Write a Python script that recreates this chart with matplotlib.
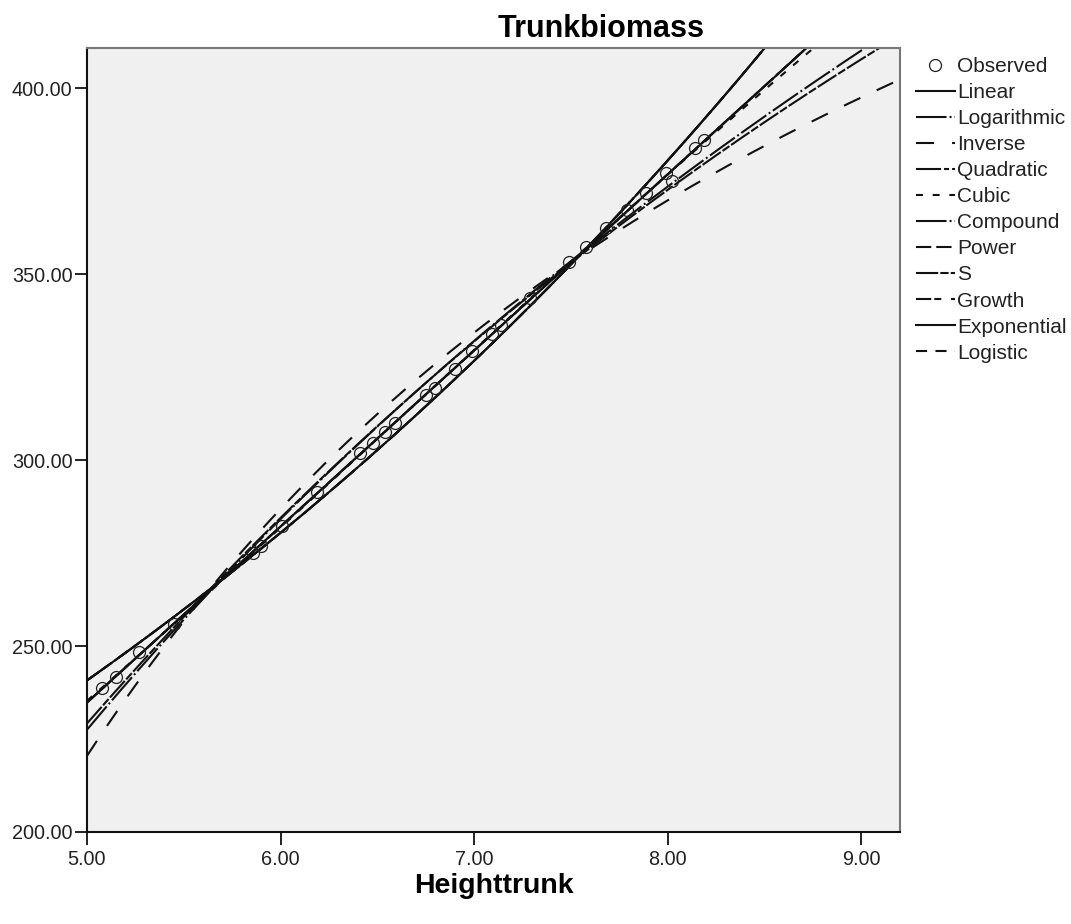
import numpy as np
import matplotlib
matplotlib.use("Agg")
import matplotlib.pyplot as plt

plt.rcParams['font.family'] = ['Liberation Sans', 'DejaVu Sans']
plt.rcParams['lines.scale_dashes'] = False

heighttrunk = [5.08, 5.15, 5.27, 5.45, 5.86, 5.90, 6.01, 6.19, 6.41, 6.48,
               6.54, 6.59, 6.75, 6.80, 6.90, 6.99, 7.09, 7.14, 7.29, 7.49,
               7.58, 7.68, 7.79, 7.89, 7.99, 8.02, 8.14, 8.19]
trunkbiomass = [238.8, 241.8, 248.3, 255.8, 275.0, 277.0, 282.3, 291.5, 301.8, 304.5,
                307.5, 309.9, 317.5, 319.5, 324.6, 329.3, 334.0, 336.3, 343.5, 353.3,
                357.3, 362.3, 367.2, 371.7, 377.1, 375.0, 383.8, 386.0]

models = ['Linear', 'Logarithmic', 'Inverse', 'Quadratic', 'Cubic', 'Compound',
          'Power', 'S', 'Growth', 'Exponential', 'Logistic']
dashes = {
    'Linear': '-',
    'Logarithmic': (0, (22, 2.2, 1.4, 2.2)),
    'Inverse': (0, (13, 13)),
    'Quadratic': (0, (18, 2.2, 3.6, 2.2)),
    'Cubic': (0, (5, 7)),
    'Compound': (0, (22, 2.2, 1.4, 2.2)),
    'Power': (0, (11, 3.6)),
    'S': (0, (16, 1.5, 6, 1.5)),
    'Growth': (0, (11, 2.2, 5, 7)),
    'Exponential': '-',
    'Logistic': (0, (8, 6)),
}

x = np.array(heighttrunk)
y = np.array(trunkbiomass)
xs = np.linspace(5.0, 9.2, 300)


def fit_curve(name):
    # same model forms as SPSS curve estimation
    if name == 'Linear':
        return np.polyval(np.polyfit(x, y, 1), xs)
    if name == 'Quadratic':
        return np.polyval(np.polyfit(x, y, 2), xs)
    if name == 'Cubic':
        return np.polyval(np.polyfit(x, y, 3), xs)
    if name == 'Logarithmic':
        b = np.polyfit(np.log(x), y, 1)
        return np.polyval(b, np.log(xs))
    if name == 'Inverse':
        b = np.polyfit(1 / x, y, 1)
        return np.polyval(b, 1 / xs)
    if name == 'Power':
        b = np.polyfit(np.log(x), np.log(y), 1)
        return np.exp(np.polyval(b, np.log(xs)))
    if name == 'S':
        b = np.polyfit(1 / x, np.log(y), 1)
        return np.exp(np.polyval(b, 1 / xs))
    # compound, growth, exponential, logistic (no upper bound) share ln(y) ~ x
    b = np.polyfit(x, np.log(y), 1)
    return np.exp(np.polyval(b, xs))


fig = plt.figure(figsize=(10.71, 9.24), dpi=100)
ax = fig.add_axes([0.0812, 0.0996, 0.7591, 0.8484])
ax.set_facecolor('#f0f0f0')

ax.plot(x, y, 'o', mfc='none', mec='#222222', ms=8.6, mew=0.9, label='Observed', zorder=5)
for m in models:
    ax.plot(xs, fit_curve(m), color='#111111', lw=1.5, linestyle=dashes[m], label=m)

ax.set_xlim(5.0, 9.2)
ax.set_ylim(200, 410.8)
ax.set_xticks([5, 6, 7, 8, 9])
ax.set_yticks([200, 250, 300, 350, 400])
ax.xaxis.set_major_formatter('{x:.2f}')
ax.yaxis.set_major_formatter('{x:.2f}')
ax.tick_params(direction='out', length=9, width=1.4, labelsize=14.3, pad=1.5,
               color='#222222', labelcolor='#222222')
ax.tick_params(axis='x', pad=4)

for side in ['left', 'bottom']:
    ax.spines[side].set_color('#111111')
    ax.spines[side].set_linewidth(1.5)
for side in ['top', 'right']:
    ax.spines[side].set_color('#777777')
    ax.spines[side].set_linewidth(1.5)

ax.set_xlabel('Heighttrunk', fontsize=20.5, fontweight='bold', labelpad=3)
fig.text(0.561, 0.969, 'Trunkbiomass', fontsize=22, fontweight='bold',
         ha='center', va='center')

ax.legend(loc='upper left', bbox_to_anchor=(0.855, 0.9385), bbox_transform=fig.transFigure,
          frameon=False, fontsize=15.0, handlelength=1.9, handletextpad=0.1,
          labelspacing=0.34, borderpad=0, borderaxespad=0, labelcolor='#222222')

plt.savefig('out.png', dpi=100)
